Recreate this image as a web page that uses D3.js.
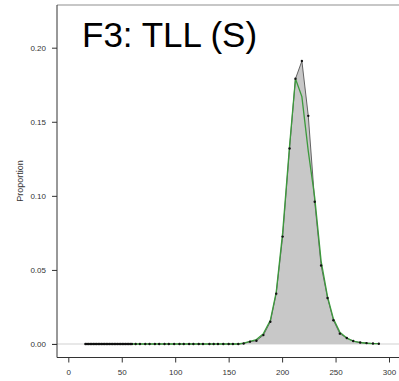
<!DOCTYPE html>
<html><head><meta charset="utf-8">
<script src="https://cdn.jsdelivr.net/npm/d3@7"></script>
<style>body{margin:0;background:#fff}svg{display:block}</style>
</head><body>
<svg id="c" width="399" height="381"></svg>
<script>
const title = "F3: TLL (S)";
const yLabel = "Proportion";
const xTicks = [0, 50, 100, 150, 200, 250, 300];
const yTicks = [0.00, 0.05, 0.10, 0.15, 0.20];
const xs = [16,17.5,19,20.5,22,23.5,25,26.5,28,29.5,31,32.5,34,35.5,37,38.5,40,41.5,43,44.5,46,47.5,49,50.5,52,53.5,55,56.5,58,59.5,
  63,67,72,76,81,85,90,94,99,104,108,113,117,122,126,132,136,140,145,150,154,159,
  164,170,176,182.5,189,194.5,200.5,207,212.5,218.5,224.5,230.5,236.5,242.5,248,254,260.5,266.5,273,279,285,290.5];
const observed = [0,0,0,0,0,0,0,0,0,0,0,0,0,0,0,0,0,0,0,0,0,0,0,0,0,0,0,0,0,0,
  0,0,0,0,0,0,0,0,0,0,0,0,0,0,0,0,0,0,0,0,0,0,
  0.0003,0.0016,0.0022,0.006,0.015,0.034,0.0725,0.132,0.179,0.191,0.154,0.096,0.053,0.031,0.016,0.007,0.004,0.002,0.001,0.0006,0.0003,0.0002];
const fitted = [0,0,0,0,0,0,0,0,0,0,0,0,0,0,0,0,0,0,0,0,0,0,0,0,0,0,0,0,0,0,
  0,0,0,0,0,0,0,0,0,0,0,0,0,0,0,0,0,0,0,0,0,0,
  0.0006,0.0018,0.003,0.007,0.016,0.035,0.075,0.134,0.179,0.167,0.13,0.099,0.056,0.032,0.017,0.008,0.004,0.002,0.001,0.0005,0.0003,0.0002];

const svg = d3.select("#c");
const x = d3.scaleLinear().domain([0, 300]).range([68.3, 389]);
const y = d3.scaleLinear().domain([0, 0.2]).range([344, 47.7]);
const axisColor = "#333";

const obs = xs.map((v, i) => ({x: v, y: observed[i]}));
const fit = xs.map((v, i) => ({x: v, y: fitted[i]}));

// top frame line
svg.append("line").attr("x1", 57).attr("x2", 399).attr("y1", 5).attr("y2", 5)
  .attr("stroke", "#b5b5b5").attr("stroke-width", 1.5);

// zero reference line
svg.append("line").attr("x1", 52).attr("x2", 399).attr("y1", y(0)).attr("y2", y(0))
  .attr("stroke", "#e0e0e0").attr("stroke-width", 1.5);

// area
svg.append("path").datum(obs)
  .attr("d", d3.area().x(d => x(d.x)).y0(y(0)).y1(d => y(d.y)))
  .attr("fill", "#c8c8c8").attr("stroke", "none");
svg.append("path").datum(obs)
  .attr("d", d3.line().x(d => x(d.x)).y(d => y(d.y)))
  .attr("fill", "none").attr("stroke", "#555").attr("stroke-width", 0.9);

// fitted green line
svg.append("path").datum(fit)
  .attr("d", d3.line().x(d => x(d.x)).y(d => y(d.y)))
  .attr("fill", "none").attr("stroke", "#3c9a3c").attr("stroke-width", 1.3);

// points
svg.append("g").selectAll("circle").data(obs).join("circle")
  .attr("cx", d => x(d.x)).attr("cy", d => y(d.y)).attr("r", 1.2).attr("fill", "#111");

// axes lines
svg.append("line").attr("x1", 57).attr("x2", 57).attr("y1", 5).attr("y2", 357.5)
  .attr("stroke", axisColor).attr("stroke-width", 1);
svg.append("line").attr("x1", 57).attr("x2", 399).attr("y1", 357.5).attr("y2", 357.5)
  .attr("stroke", axisColor).attr("stroke-width", 1);

const yAxis = svg.append("g").attr("transform", "translate(57,0)")
  .call(d3.axisLeft(y).tickValues(yTicks).tickFormat(d3.format(".2f")).tickSize(5).tickSizeOuter(0).tickPadding(6));
yAxis.select(".domain").remove();
yAxis.selectAll("line").attr("stroke", axisColor);
yAxis.selectAll("text").attr("fill", "#333").style("font-family", "Liberation Sans, Arial, sans-serif").style("font-size", "8px");

const xAxis = svg.append("g").attr("transform", "translate(0,357.5)")
  .call(d3.axisBottom(x).tickValues(xTicks).tickFormat(d3.format("d")).tickSize(5).tickSizeOuter(0).tickPadding(7));
xAxis.select(".domain").remove();
xAxis.selectAll("line").attr("stroke", axisColor);
xAxis.selectAll("text").attr("fill", "#333").style("font-family", "Liberation Sans, Arial, sans-serif").style("font-size", "8px");

svg.append("text").attr("transform", "translate(23,181) rotate(-90)")
  .attr("text-anchor", "middle").attr("fill", "#333")
  .style("font-family", "Liberation Sans, Arial, sans-serif").style("font-size", "9px").text(yLabel);

svg.append("text").attr("x", 82).attr("y", 47).attr("fill", "#000")
  .style("font-family", "Liberation Sans, Arial, sans-serif").style("font-size", "35px").text(title);
</script>
</body></html>
